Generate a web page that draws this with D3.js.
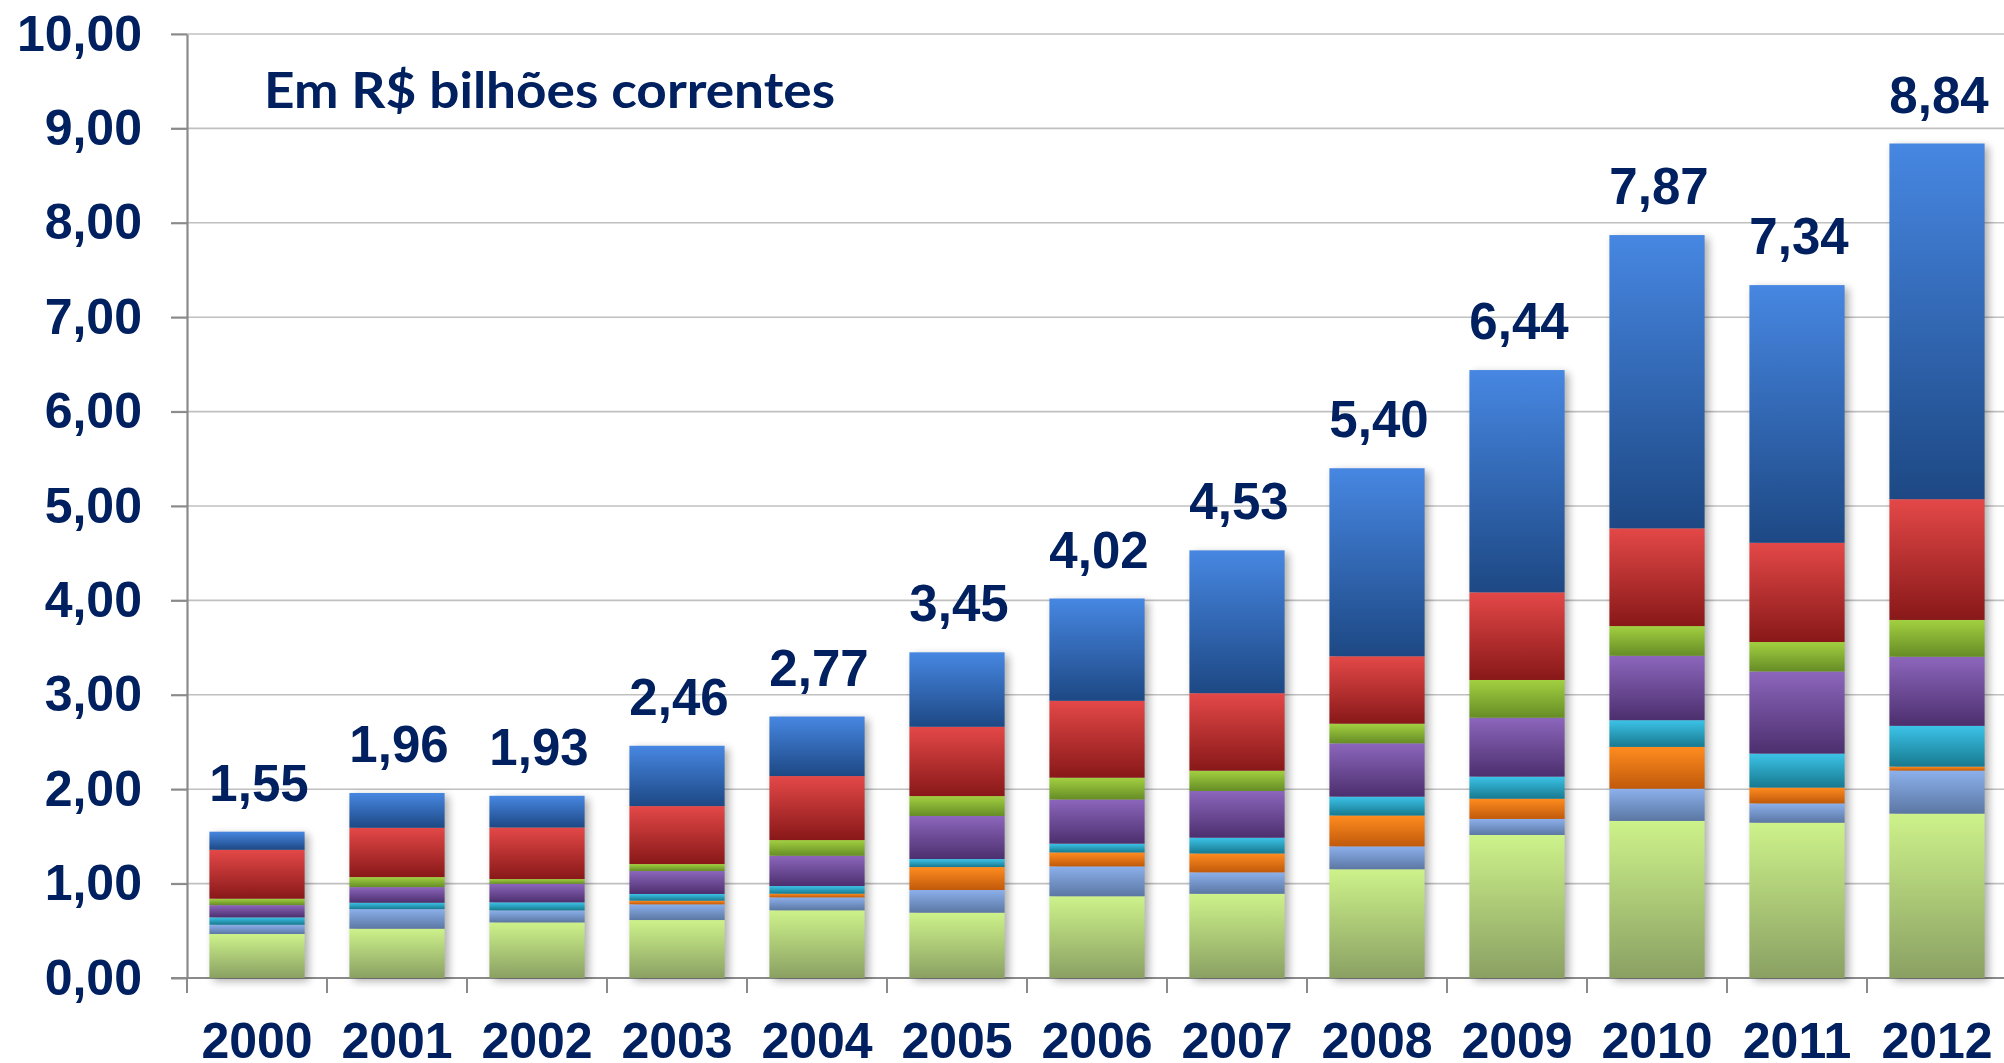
<!DOCTYPE html>
<html>
<head>
<meta charset="utf-8">
<script src="https://cdn.jsdelivr.net/npm/d3@7"></script>
<style>
  body { margin: 0; background: #fff; }
  svg text { font-family: "Liberation Sans", Arial, sans-serif; font-weight: bold; fill: #002060; }
</style>
</head>
<body>
<div id="chart"></div>
<script>
var svgWidth = 2004;
var svgHeight = 1063;

// data (R$ bilhões)
var years = ["2000", "2001", "2002", "2003", "2004", "2005", "2006", "2007", "2008", "2009", "2010", "2011", "2012"];
var totals = [1.55, 1.96, 1.93, 2.46, 2.77, 3.45, 4.02, 4.53, 5.40, 6.44, 7.87, 7.34, 8.84];
var yTicks = [0, 1, 2, 3, 4, 5, 6, 7, 8, 9, 10];

// stacked from the bottom up
var lightGreen = [0.466, 0.522, 0.589, 0.614, 0.717, 0.692, 0.866, 0.892, 1.152, 1.515, 1.664, 1.645, 1.741];
var lightBlue  = [0.098, 0.208, 0.127, 0.166, 0.137, 0.240, 0.316, 0.227, 0.242, 0.170, 0.341, 0.204, 0.456];
var orange     = [0.000, 0.000, 0.000, 0.039, 0.039, 0.243, 0.148, 0.200, 0.327, 0.214, 0.443, 0.168, 0.042];
var aqua       = [0.078, 0.067, 0.085, 0.071, 0.081, 0.085, 0.093, 0.167, 0.200, 0.234, 0.283, 0.360, 0.432];
var purple     = [0.130, 0.166, 0.197, 0.243, 0.321, 0.456, 0.468, 0.495, 0.565, 0.624, 0.682, 0.870, 0.732];
var green      = [0.068, 0.106, 0.050, 0.074, 0.166, 0.211, 0.231, 0.215, 0.208, 0.400, 0.315, 0.312, 0.390];
var red        = [0.518, 0.522, 0.546, 0.614, 0.678, 0.734, 0.814, 0.821, 0.714, 0.928, 1.035, 1.051, 1.279];
var blue       = [0.192, 0.369, 0.336, 0.639, 0.631, 0.789, 1.084, 1.513, 1.992, 2.355, 3.107, 2.730, 3.768];

var seriesKeys = ["lightGreen", "lightBlue", "orange", "aqua", "purple", "green", "red", "blue"];
var seriesValues = [lightGreen, lightBlue, orange, aqua, purple, green, red, blue];

// gradient stops (top, bottom) for each series
var gradColors = {
  lightGreen: ["#cdf28a", "#8aa063"],
  lightBlue:  ["#8cb0ec", "#5b77a3"],
  orange:     ["#ff8c1f", "#c0590b"],
  aqua:       ["#3cc3e8", "#17798f"],
  purple:     ["#8c66bc", "#4c2f6e"],
  green:      ["#a2d040", "#668c26"],
  red:        ["#e44848", "#881818"],
  blue:       ["#4787e2", "#1d4884"]
};

var rows = years.map(function(yr, i) {
  var row = { year: yr, total: totals[i] };
  seriesKeys.forEach(function(k, j) { row[k] = seriesValues[j][i]; });
  return row;
});

var margin = { left: 187, right: 0, top: 34, bottom: 85 };

var svg = d3.select("#chart")
  .append("svg")
  .attr("width", svgWidth)
  .attr("height", svgHeight);

var defs = svg.append("defs");

seriesKeys.forEach(function(k) {
  var g = defs.append("linearGradient")
    .attr("id", "grad-" + k)
    .attr("x1", 0).attr("y1", 0).attr("x2", 0).attr("y2", 1);
  g.append("stop").attr("offset", "0%").attr("stop-color", gradColors[k][0]);
  g.append("stop").attr("offset", "100%").attr("stop-color", gradColors[k][1]);
});

var shadow = defs.append("filter")
  .attr("id", "shadow")
  .attr("x", "-20%").attr("y", "-20%")
  .attr("width", "140%").attr("height", "140%");
shadow.append("feGaussianBlur").attr("stdDeviation", 4);

// scales
var xBandScale = d3.scaleBand()
  .domain(years)
  .range([margin.left, margin.left + 13 * 140])
  .paddingInner(0.32)
  .paddingOuter(0.16);

var yLinearScale = d3.scaleLinear()
  .domain([0, 10])
  .range([978, margin.top]);

var ptBR = d3.formatLocale({ decimal: ",", thousands: ".", grouping: [3], currency: ["R$", ""] });
var fmt = ptBR.format(".2f");

// gridlines
svg.append("g")
  .selectAll("line")
  .data(yTicks.filter(function(t) { return t > 0; }))
  .enter()
  .append("line")
  .attr("x1", margin.left - 16)
  .attr("x2", svgWidth)
  .attr("y1", d => yLinearScale(d))
  .attr("y2", d => yLinearScale(d))
  .attr("stroke", "#c0c0c0")
  .attr("stroke-width", 1.6);

// y axis
var leftAxis = d3.axisLeft(yLinearScale)
  .tickValues(yTicks)
  .tickSize(16)
  .tickSizeOuter(0)
  .tickPadding(29)
  .tickFormat(fmt);

var yAxisGroup = svg.append("g")
  .attr("transform", `translate(${margin.left}, 0)`)
  .call(leftAxis);
yAxisGroup.selectAll("line").attr("stroke", "#8a8a8a").attr("stroke-width", 2);
yAxisGroup.select(".domain").attr("stroke", "#8a8a8a").attr("stroke-width", 2.2);
yAxisGroup.selectAll("text")
  .attr("font-size", 50)
  .attr("fill", "#002060")
  .attr("font-family", "Liberation Sans, Arial, sans-serif");

// x axis baseline and boundary ticks
svg.append("line")
  .attr("x1", margin.left - 16)
  .attr("x2", svgWidth)
  .attr("y1", yLinearScale(0))
  .attr("y2", yLinearScale(0))
  .attr("stroke", "#8a8a8a")
  .attr("stroke-width", 2.2);

svg.append("g")
  .selectAll("line")
  .data(years)
  .enter()
  .append("line")
  .attr("x1", d => xBandScale(d) - xBandScale.step() * 0.16)
  .attr("x2", d => xBandScale(d) - xBandScale.step() * 0.16)
  .attr("y1", yLinearScale(0))
  .attr("y2", yLinearScale(0) + 15)
  .attr("stroke", "#8a8a8a")
  .attr("stroke-width", 2);

// bar shadows
svg.append("g")
  .selectAll("rect")
  .data(rows)
  .enter()
  .append("rect")
  .attr("x", d => xBandScale(d.year) + 4)
  .attr("y", d => yLinearScale(d.total) + 3)
  .attr("width", xBandScale.bandwidth())
  .attr("height", d => yLinearScale(0) - yLinearScale(d.total))
  .attr("fill", "#000")
  .attr("opacity", 0.32)
  .attr("filter", "url(#shadow)");

// stacked bars
var stack = d3.stack().keys(seriesKeys);
var stacked = stack(rows);

svg.append("g")
  .selectAll("g")
  .data(stacked)
  .enter()
  .append("g")
  .attr("fill", d => `url(#grad-${d.key})`)
  .selectAll("rect")
  .data(d => d.filter(s => s[1] - s[0] > 0))
  .enter()
  .append("rect")
  .attr("x", d => xBandScale(d.data.year))
  .attr("y", d => yLinearScale(d[1]))
  .attr("width", xBandScale.bandwidth())
  .attr("height", d => yLinearScale(d[0]) - yLinearScale(d[1]));

// year labels
var bottomAxis = d3.axisBottom(xBandScale).tickSize(0).tickPadding(44);
var xAxisGroup = svg.append("g")
  .attr("transform", `translate(0, ${yLinearScale(0)})`)
  .call(bottomAxis);
xAxisGroup.select(".domain").remove();
xAxisGroup.selectAll("text")
  .attr("font-size", 50)
  .attr("fill", "#002060")
  .attr("font-family", "Liberation Sans, Arial, sans-serif");

// total labels
svg.append("g")
  .selectAll("text")
  .data(rows)
  .enter()
  .append("text")
  .attr("x", d => xBandScale(d.year) + xBandScale.bandwidth() / 2 + 2)
  .attr("y", d => yLinearScale(d.total) - 31)
  .attr("text-anchor", "middle")
  .attr("font-size", 51)
  .text(d => fmt(d.total));

// unit note
svg.append("text")
  .attr("x", 264)
  .attr("y", 108)
  .attr("font-size", 50)
  .attr("textLength", 571)
  .attr("lengthAdjust", "spacingAndGlyphs")
  .style("font-family", "Lato, 'Open Sans', sans-serif")
  .text("Em R$ bilhões correntes");
</script>
</body>
</html>
